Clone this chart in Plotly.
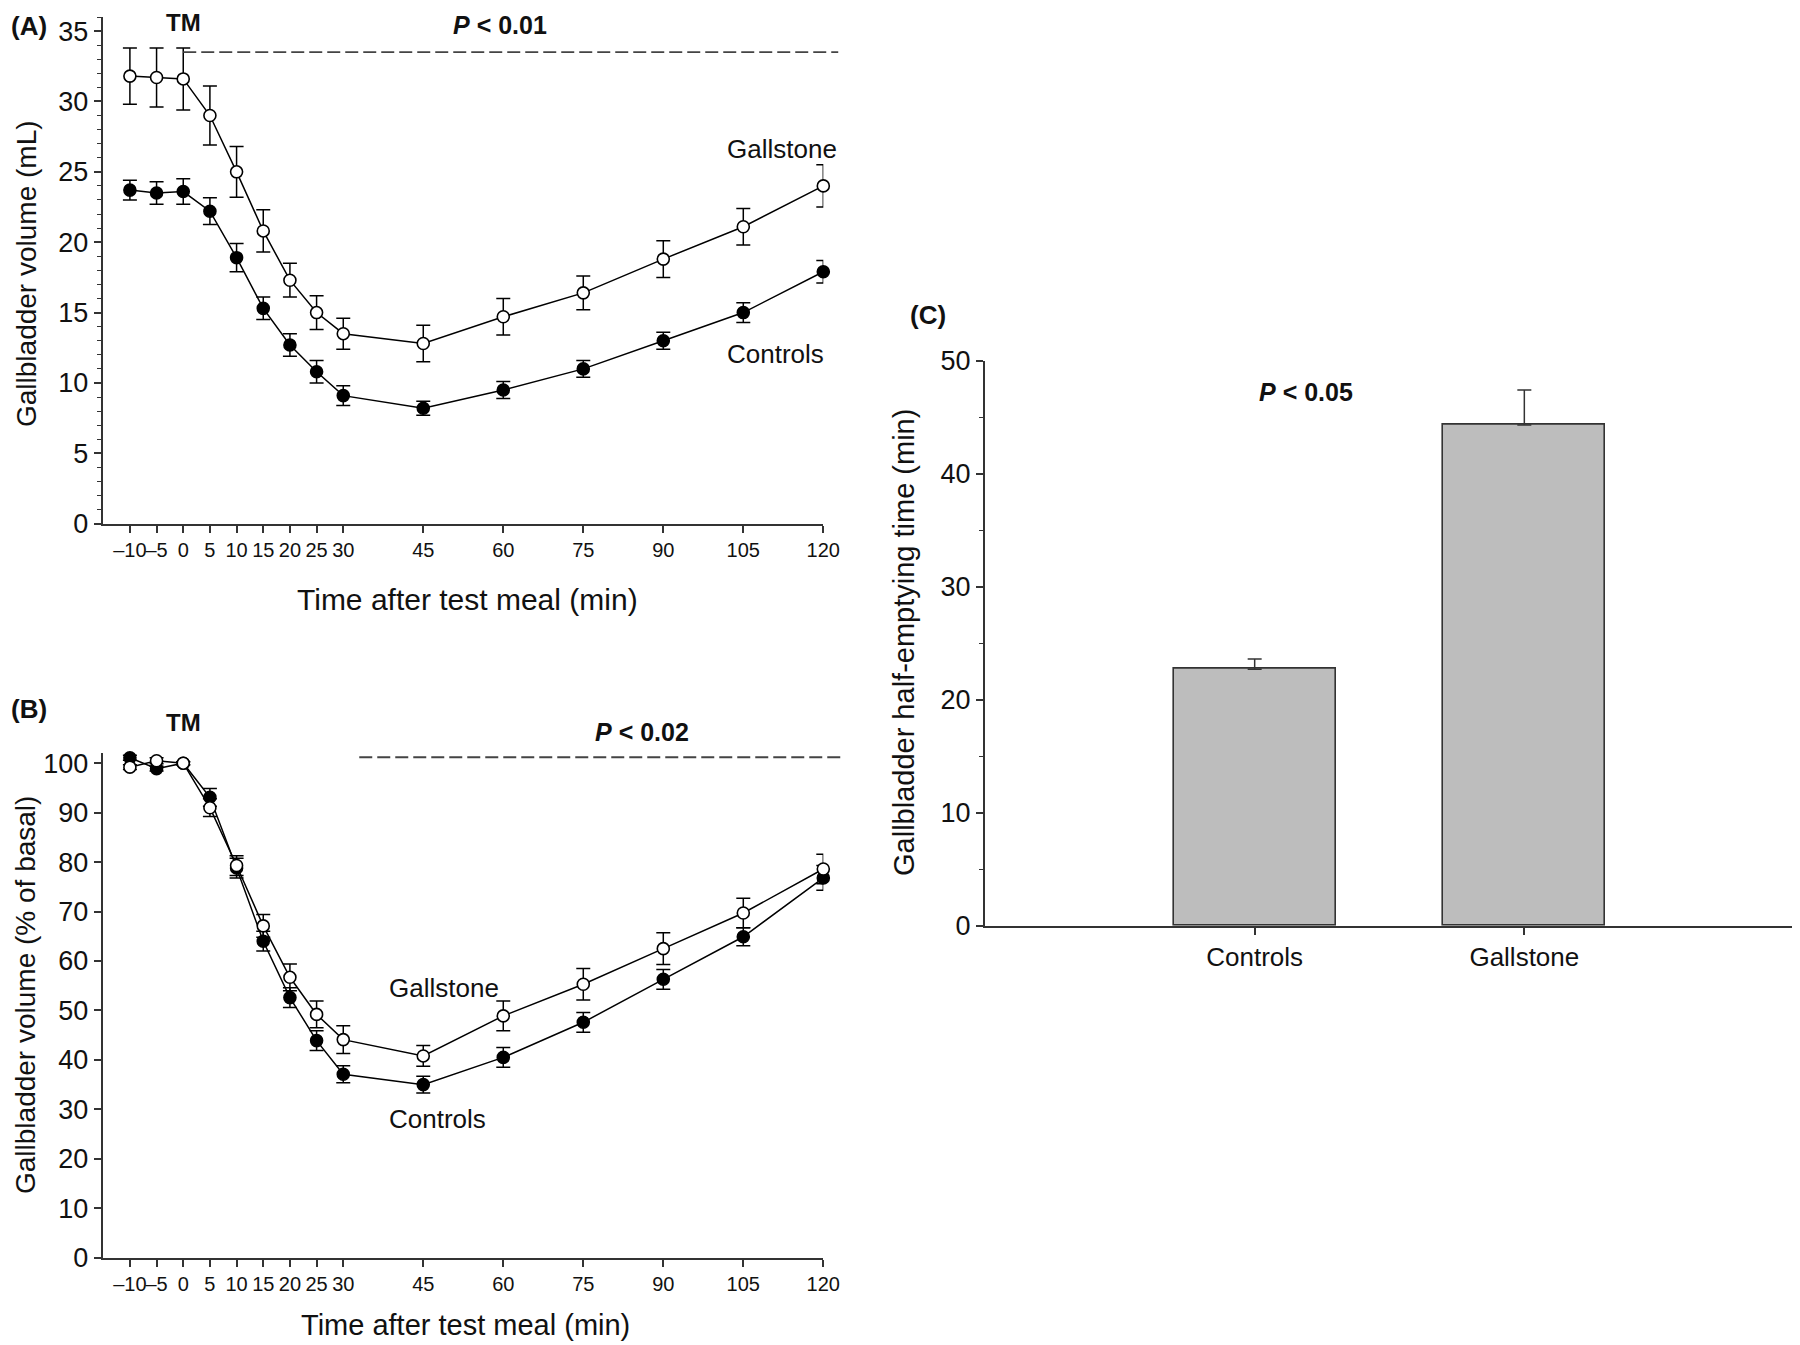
import plotly.graph_objects as go

# ---------------- data ----------------
time_min = [-10, -5, 0, 5, 10, 15, 20, 25, 30, 45, 60, 75, 90, 105, 120]
time_ticktext = ["–10", "–5", "0", "5", "10", "15", "20", "25", "30", "45", "60", "75", "90", "105", "120"]

vol_gallstone = [31.8, 31.7, 31.6, 29.0, 25.0, 20.8, 17.3, 15.0, 13.5, 12.8, 14.7, 16.4, 18.8, 21.1, 24.0]
vol_gallstone_err = [2.0, 2.1, 2.2, 2.1, 1.8, 1.5, 1.2, 1.2, 1.1, 1.3, 1.3, 1.2, 1.3, 1.3, 1.5]
vol_controls = [23.7, 23.5, 23.6, 22.2, 18.9, 15.3, 12.7, 10.8, 9.1, 8.2, 9.5, 11.0, 13.0, 15.0, 17.9]
vol_controls_err = [0.7, 0.8, 0.9, 0.95, 1.0, 0.8, 0.8, 0.8, 0.7, 0.5, 0.6, 0.6, 0.6, 0.7, 0.8]

pct_gallstone = [99.2, 100.5, 100.0, 91.0, 79.3, 67.1, 56.7, 49.2, 44.1, 40.8, 48.9, 55.3, 62.5, 69.7, 78.6]
pct_gallstone_err = [0.5, 0.6, 0.3, 1.8, 2.0, 2.3, 2.7, 2.7, 2.8, 2.1, 3.0, 3.2, 3.2, 3.0, 3.0]
pct_controls = [101.1, 98.9, 100.0, 93.1, 78.8, 64.0, 52.6, 43.9, 37.1, 35.0, 40.5, 47.6, 56.3, 64.9, 76.8]
pct_controls_err = [0.5, 0.5, 0.3, 1.8, 2.0, 2.0, 2.0, 2.0, 1.7, 1.7, 2.0, 2.0, 2.0, 1.8, 2.5]

groups = ["Controls", "Gallstone"]
half_time = [22.7, 44.3]
half_time_err = [0.9, 3.1]

# ---------------- layout geometry ----------------
OFF = 8                      # default page (body) margin of the html page
FW, FH = 1800 - OFF, 1345 - OFF
FONT = "Liberation Sans, Arial, Helvetica, sans-serif"
AX = "#333333"


def px(p):
    return (p - OFF) / FW


def py(p):
    return 1 - (p - OFF) / FH


xdomA = [px(102.7), px(823.3)]
ydomA = [py(523.7), py(17)]
xdomB = xdomA
ydomB = [py(1257.7), py(753.3)]
xdomC = [px(985), px(1794)]
ydomC = [py(925.7), py(360.7)]

xrange_t = [-15.1, 120]
yrangeA = [0, 36]
yrangeB = [0, 102]
yrangeC = [0, 50]
xrangeC = [-1, 2]


def to_paper(dom, rng, v):
    return dom[0] + (v - rng[0]) / (rng[1] - rng[0]) * (dom[1] - dom[0])


fig = go.Figure()

open_marker = dict(symbol="circle", size=12, color="white", line=dict(color="black", width=1.6))
filled_marker = dict(symbol="circle", size=12, color="black", line=dict(color="black", width=1.6))


def err(arr):
    return dict(type="data", array=arr, color="black", thickness=1.5, width=7, visible=True)


# Panel A
fig.add_trace(go.Scatter(x=time_min, y=vol_controls, mode="lines+markers", marker=filled_marker,
                         line=dict(color="black", width=1.5), error_y=err(vol_controls_err),
                         xaxis="x", yaxis="y", showlegend=False, cliponaxis=False))
fig.add_trace(go.Scatter(x=time_min, y=vol_gallstone, mode="lines+markers", marker=open_marker,
                         line=dict(color="black", width=1.5), error_y=err(vol_gallstone_err),
                         xaxis="x", yaxis="y", showlegend=False, cliponaxis=False))
# Panel B
fig.add_trace(go.Scatter(x=time_min, y=pct_controls, mode="lines+markers", marker=filled_marker,
                         line=dict(color="black", width=1.5), error_y=err(pct_controls_err),
                         xaxis="x2", yaxis="y2", showlegend=False, cliponaxis=False))
fig.add_trace(go.Scatter(x=time_min, y=pct_gallstone, mode="lines+markers", marker=open_marker,
                         line=dict(color="black", width=1.5), error_y=err(pct_gallstone_err),
                         xaxis="x2", yaxis="y2", showlegend=False, cliponaxis=False))
# Panel C
fig.add_trace(go.Bar(x=groups, y=half_time, width=0.6, marker=dict(color="#bdbdbd", line=dict(color=AX, width=1.6)),
                     error_y=dict(type="data", array=half_time_err, arrayminus=[0, 0], symmetric=False,
                                  color=AX, thickness=1.5, width=7),
                     xaxis="x3", yaxis="y3", showlegend=False))

tick_common = dict(showline=True, linecolor=AX, linewidth=2, ticks="outside", ticklen=7, tickwidth=1.5,
                   tickcolor=AX, showgrid=False, zeroline=False, tickangle=0, automargin=False)

fig.update_layout(
    template="none",
    width=FW, height=FH, margin=dict(l=0, r=0, t=0, b=0, pad=0), autosize=False,
    paper_bgcolor="white", plot_bgcolor="white",
    font=dict(family=FONT, color="#111111"),
    bargap=0,
    xaxis=dict(domain=xdomA, range=xrange_t, anchor="y", tickvals=time_min, ticktext=time_ticktext,
               tickfont=dict(size=20), **tick_common),
    yaxis=dict(domain=ydomA, range=yrangeA, anchor="x", tickvals=list(range(0, 36, 5)),
               tickfont=dict(size=27),
               minor=dict(dtick=1, ticks="outside", ticklen=4, tickcolor=AX, tickwidth=1.2), **tick_common),
    xaxis2=dict(domain=xdomB, range=xrange_t, anchor="y2", tickvals=time_min, ticktext=time_ticktext,
                tickfont=dict(size=20), **tick_common),
    yaxis2=dict(domain=ydomB, range=yrangeB, anchor="x2", tickvals=list(range(0, 101, 10)),
                tickfont=dict(size=27), **tick_common),
    xaxis3=dict(domain=xdomC, range=xrangeC, anchor="y3", type="category",
                tickfont=dict(size=26), **tick_common),
    yaxis3=dict(domain=ydomC, range=yrangeC, anchor="x3", tickvals=list(range(0, 51, 10)),
                tickfont=dict(size=27),
                minor=dict(dtick=5, ticks="outside", ticklen=4, tickcolor=AX, tickwidth=1.2), **tick_common),
)

# dashed significance lines
dash_style = dict(color="#444444", width=1.8, dash="13px,5px")
fig.add_shape(type="line", xref="paper", yref="paper",
              x0=to_paper(xdomA, xrange_t, 0), x1=to_paper(xdomA, xrange_t, 122.8),
              y0=to_paper(ydomA, yrangeA, 33.5), y1=to_paper(ydomA, yrangeA, 33.5), line=dash_style)
fig.add_shape(type="line", xref="paper", yref="paper",
              x0=to_paper(xdomB, xrange_t, 33), x1=to_paper(xdomB, xrange_t, 123.5),
              y0=to_paper(ydomB, yrangeB, 101.2), y1=to_paper(ydomB, yrangeB, 101.2), line=dash_style)


def ann(text, x, y, size=24, angle=0):
    fig.add_annotation(text=text, x=x, y=y, xref="paper", yref="paper", showarrow=False,
                       font=dict(size=size, family=FONT, color="#111111"), textangle=angle,
                       xanchor="center", yanchor="middle")


def annA(text, xv, yv, size):
    ann(text, to_paper(xdomA, xrange_t, xv), to_paper(ydomA, yrangeA, yv), size)


def annB(text, xv, yv, size):
    ann(text, to_paper(xdomB, xrange_t, xv), to_paper(ydomB, yrangeB, yv), size)


def annC(text, xv, yv, size):
    ann(text, to_paper(xdomC, xrangeC, xv), to_paper(ydomC, yrangeC, yv), size)


# panel labels
ann("<b>(A)</b>", px(29), py(26), size=26)
ann("<b>(B)</b>", px(29), py(709), size=26)
ann("<b>(C)</b>", px(928), py(315), size=26)
ann("<b>TM</b>", to_paper(xdomA, xrange_t, 0), py(22), size=24)
ann("<b>TM</b>", to_paper(xdomB, xrange_t, 0), py(722), size=24)
annA("<b><i>P</i> &lt; 0.01</b>", 59.4, 35.4, 25)
annB("<b><i>P</i> &lt; 0.02</b>", 86.1, 106.4, 25)
annC("<b><i>P</i> &lt; 0.05</b>", 0.19, 47.2, 25)

# series labels
annA("Gallstone", 112.2, 26.6, 26)
annA("Controls", 111.1, 12.05, 26)
annB("Gallstone", 48.8, 54.5, 26)
annB("Controls", 47.6, 28.1, 26)

# axis titles
ann("Gallbladder volume (mL)", px(26), py(274), size=28, angle=-90)
ann("Time after test meal (min)", px(467), py(599), size=30)
ann("Gallbladder volume (% of basal)", px(26), py(995), size=28, angle=-90)
ann("Time after test meal (min)", px(465), py(1325), size=29)
ann("Gallbladder half-emptying time (min)", px(904), py(643), size=29, angle=-90)

fig.write_html("out.html")
